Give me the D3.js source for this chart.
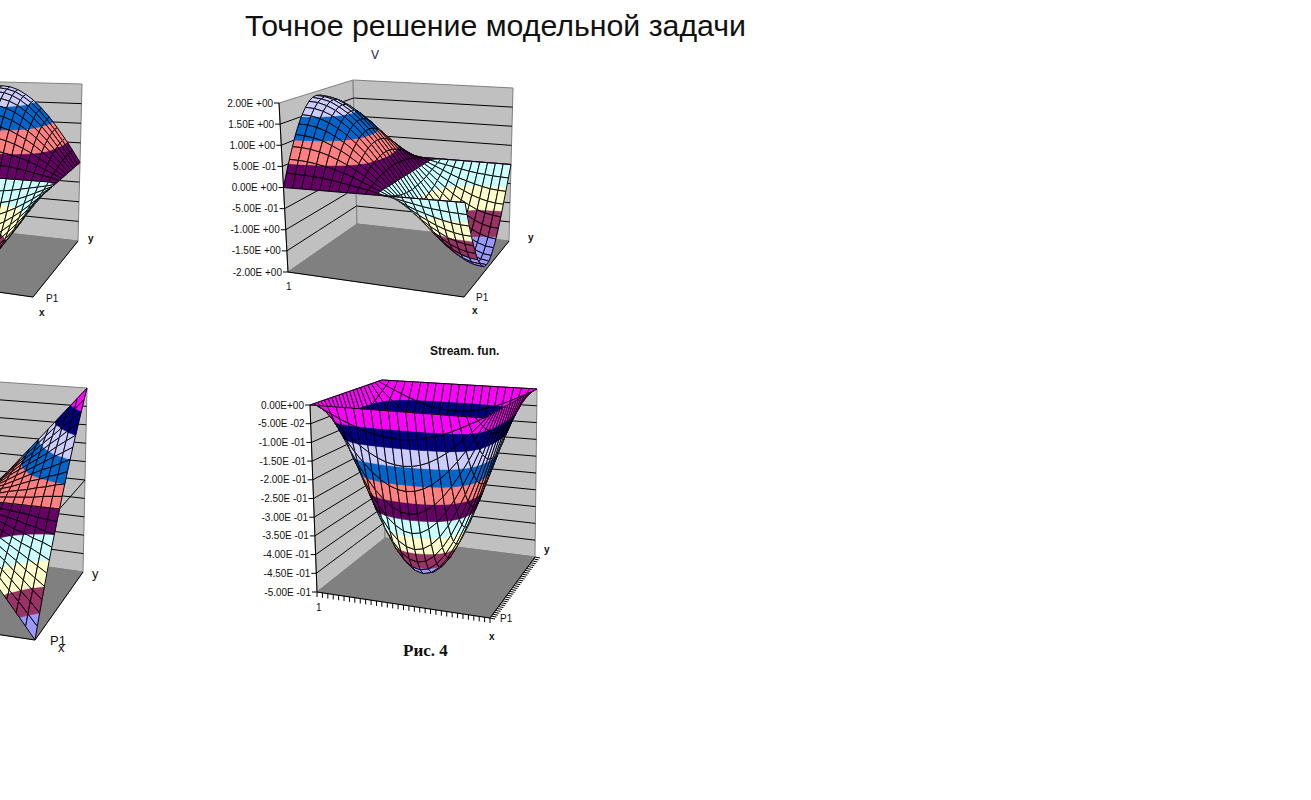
<!DOCTYPE html>
<html><head><meta charset="utf-8">
<script src="https://cdn.jsdelivr.net/npm/d3@7/dist/d3.min.js"></script>
<style>html,body{margin:0;padding:0;background:#fff;overflow:hidden}svg{display:block}text{font-family:"Liberation Sans",Arial,sans-serif;fill:#111}</style>
</head><body><div id="chart"></div>
<script>
const bandColors = ["#9999FF","#993366","#FFFFCC","#CCFFFF","#660066","#FF8080","#0066CC","#CCCCFF","#000080","#FF00FF"];
const vLevels = [-2,-1.5,-1,-0.5,0,0.5,1,1.5,2];
const vTickLabels = ["-2.00E +00","-1.50E +00","-1.00E +00","-5.00E -01","0.00E +00","5.00E -01","1.00E +00","1.50E +00","2.00E +00"];
const streamLevels = [-0.5,-0.45,-0.4,-0.35,-0.3,-0.25,-0.2,-0.15,-0.1,-0.05,0];
const streamTickLabels = ["-5.00E -01","-4.50E -01","-4.00E -01","-3.50E -01","-3.00E -01","-2.50E -01","-2.00E -01","-1.50E -01","-1.00E -01","-5.00E -02","0.00E+00"];
const pressureLevels = [-1,-0.8,-0.6,-0.4,-0.2,0,0.2,0.4,0.6,0.8,1];

const vGrid = [
[0,.30,.59,.86,1.12,1.34,1.54,1.69,1.81,1.88,1.90,1.88,1.81,1.69,1.54,1.34,1.12,.86,.59,.30,0],
[0,.29,.58,.85,1.10,1.33,1.52,1.67,1.79,1.85,1.88,1.85,1.79,1.67,1.52,1.33,1.10,.85,.58,.29,0],
[0,.28,.56,.82,1.06,1.28,1.46,1.61,1.72,1.79,1.81,1.79,1.72,1.61,1.46,1.28,1.06,.82,.56,.28,0],
[0,.26,.52,.77,1.00,1.20,1.37,1.51,1.61,1.67,1.69,1.67,1.61,1.51,1.37,1.20,1.00,.77,.52,.26,0],
[0,.24,.47,.70,.90,1.09,1.24,1.37,1.46,1.52,1.54,1.52,1.46,1.37,1.24,1.09,.90,.70,.47,.24,0],
[0,.21,.41,.61,.79,.95,1.09,1.20,1.28,1.33,1.34,1.33,1.28,1.20,1.09,.95,.79,.61,.41,.21,0],
[0,.17,.35,.51,.66,.79,.90,1.00,1.06,1.10,1.12,1.10,1.06,1.00,.90,.79,.66,.51,.35,.17,0],
[0,.13,.27,.39,.51,.61,.70,.77,.82,.85,.86,.85,.82,.77,.70,.61,.51,.39,.27,.13,0],
[0,.09,.18,.27,.35,.42,.47,.52,.56,.58,.59,.58,.56,.52,.47,.42,.35,.27,.18,.09,0],
[0,.05,.09,.13,.17,.21,.24,.26,.28,.29,.30,.29,.28,.26,.24,.21,.17,.13,.09,.05,0],
[0,0,0,0,0,0,0,0,0,0,0,0,0,0,0,0,0,0,0,0,0],
[0,-.05,-.09,-.13,-.17,-.21,-.24,-.26,-.28,-.29,-.30,-.29,-.28,-.26,-.24,-.21,-.17,-.13,-.09,-.05,0],
[0,-.09,-.18,-.27,-.35,-.42,-.47,-.52,-.56,-.58,-.59,-.58,-.56,-.52,-.47,-.42,-.35,-.27,-.18,-.09,0],
[0,-.13,-.27,-.39,-.51,-.61,-.70,-.77,-.82,-.85,-.86,-.85,-.82,-.77,-.70,-.61,-.51,-.39,-.27,-.13,0],
[0,-.17,-.35,-.51,-.66,-.79,-.90,-1.00,-1.06,-1.10,-1.12,-1.10,-1.06,-1.00,-.90,-.79,-.66,-.51,-.35,-.17,0],
[0,-.21,-.41,-.61,-.79,-.95,-1.09,-1.20,-1.28,-1.33,-1.34,-1.33,-1.28,-1.20,-1.09,-.95,-.79,-.61,-.41,-.21,0],
[0,-.24,-.47,-.70,-.90,-1.09,-1.24,-1.37,-1.46,-1.52,-1.54,-1.52,-1.46,-1.37,-1.24,-1.09,-.90,-.70,-.47,-.24,0],
[0,-.26,-.52,-.77,-1.00,-1.20,-1.37,-1.51,-1.61,-1.67,-1.69,-1.67,-1.61,-1.51,-1.37,-1.20,-1.00,-.77,-.52,-.26,0],
[0,-.28,-.56,-.82,-1.06,-1.28,-1.46,-1.61,-1.72,-1.79,-1.81,-1.79,-1.72,-1.61,-1.46,-1.28,-1.06,-.82,-.56,-.28,0],
[0,-.29,-.58,-.85,-1.10,-1.33,-1.52,-1.67,-1.79,-1.85,-1.88,-1.85,-1.79,-1.67,-1.52,-1.33,-1.10,-.85,-.58,-.29,0],
[0,-.30,-.59,-.86,-1.12,-1.34,-1.54,-1.69,-1.81,-1.88,-1.90,-1.88,-1.81,-1.69,-1.54,-1.34,-1.12,-.86,-.59,-.30,0]
];

const uGrid = [
[0,0,0,0,0,0,0,0,0,0,0,0,0,0,0,0,0,0,0,0,0],
[-.30,-.29,-.28,-.26,-.24,-.21,-.17,-.13,-.09,-.05,0,.05,.09,.13,.17,.21,.24,.26,.28,.29,.30],
[-.59,-.58,-.56,-.52,-.47,-.41,-.35,-.27,-.18,-.09,0,.09,.18,.27,.35,.41,.47,.52,.56,.58,.59],
[-.86,-.85,-.82,-.77,-.70,-.61,-.51,-.39,-.27,-.13,0,.13,.27,.39,.51,.61,.70,.77,.82,.85,.86],
[-1.12,-1.10,-1.06,-1.00,-.90,-.79,-.66,-.51,-.35,-.17,0,.17,.35,.51,.66,.79,.90,1.00,1.06,1.10,1.12],
[-1.34,-1.33,-1.28,-1.20,-1.09,-.95,-.79,-.61,-.42,-.21,0,.21,.42,.61,.79,.95,1.09,1.20,1.28,1.33,1.34],
[-1.54,-1.52,-1.46,-1.37,-1.24,-1.09,-.90,-.70,-.47,-.24,0,.24,.47,.70,.90,1.09,1.24,1.37,1.46,1.52,1.54],
[-1.69,-1.67,-1.61,-1.51,-1.37,-1.20,-1.00,-.77,-.52,-.26,0,.26,.52,.77,1.00,1.20,1.37,1.51,1.61,1.67,1.69],
[-1.81,-1.79,-1.72,-1.61,-1.46,-1.28,-1.06,-.82,-.56,-.28,0,.28,.56,.82,1.06,1.28,1.46,1.61,1.72,1.79,1.81],
[-1.88,-1.85,-1.79,-1.67,-1.52,-1.33,-1.10,-.85,-.58,-.29,0,.29,.58,.85,1.10,1.33,1.52,1.67,1.79,1.85,1.88],
[-1.90,-1.88,-1.81,-1.69,-1.54,-1.34,-1.12,-.86,-.59,-.30,0,.30,.59,.86,1.12,1.34,1.54,1.69,1.81,1.88,1.90],
[-1.88,-1.85,-1.79,-1.67,-1.52,-1.33,-1.10,-.85,-.58,-.29,0,.29,.58,.85,1.10,1.33,1.52,1.67,1.79,1.85,1.88],
[-1.81,-1.79,-1.72,-1.61,-1.46,-1.28,-1.06,-.82,-.56,-.28,0,.28,.56,.82,1.06,1.28,1.46,1.61,1.72,1.79,1.81],
[-1.69,-1.67,-1.61,-1.51,-1.37,-1.20,-1.00,-.77,-.52,-.26,0,.26,.52,.77,1.00,1.20,1.37,1.51,1.61,1.67,1.69],
[-1.54,-1.52,-1.46,-1.37,-1.24,-1.09,-.90,-.70,-.47,-.24,0,.24,.47,.70,.90,1.09,1.24,1.37,1.46,1.52,1.54],
[-1.34,-1.33,-1.28,-1.20,-1.09,-.95,-.79,-.61,-.42,-.21,0,.21,.42,.61,.79,.95,1.09,1.20,1.28,1.33,1.34],
[-1.12,-1.10,-1.06,-1.00,-.90,-.79,-.66,-.51,-.35,-.17,0,.17,.35,.51,.66,.79,.90,1.00,1.06,1.10,1.12],
[-.86,-.85,-.82,-.77,-.70,-.61,-.51,-.39,-.27,-.13,0,.13,.27,.39,.51,.61,.70,.77,.82,.85,.86],
[-.59,-.58,-.56,-.52,-.47,-.41,-.35,-.27,-.18,-.09,0,.09,.18,.27,.35,.41,.47,.52,.56,.58,.59],
[-.30,-.29,-.28,-.26,-.24,-.21,-.17,-.13,-.09,-.05,0,.05,.09,.13,.17,.21,.24,.26,.28,.29,.30],
[0,0,0,0,0,0,0,0,0,0,0,0,0,0,0,0,0,0,0,0,0]
];

const streamGrid = [
[0,0,0,0,0,0,0,0,0,0,0,0,0,0,0,0,0,0,0,0,0],
[0,-.012,-.023,-.034,-.044,-.053,-.061,-.067,-.071,-.074,-.075,-.074,-.071,-.067,-.061,-.053,-.044,-.034,-.023,-.012,0],
[0,-.023,-.046,-.067,-.087,-.105,-.120,-.132,-.141,-.146,-.148,-.146,-.141,-.132,-.120,-.105,-.087,-.067,-.046,-.023,0],
[0,-.034,-.067,-.099,-.128,-.154,-.176,-.194,-.207,-.215,-.218,-.215,-.207,-.194,-.176,-.154,-.128,-.099,-.067,-.034,0],
[0,-.044,-.087,-.128,-.166,-.199,-.228,-.251,-.268,-.279,-.282,-.279,-.268,-.251,-.228,-.199,-.166,-.128,-.087,-.044,0],
[0,-.053,-.105,-.154,-.199,-.240,-.274,-.302,-.322,-.335,-.339,-.335,-.322,-.302,-.274,-.240,-.199,-.154,-.105,-.053,0],
[0,-.061,-.120,-.176,-.228,-.274,-.314,-.346,-.369,-.383,-.388,-.383,-.369,-.346,-.314,-.274,-.228,-.176,-.120,-.061,0],
[0,-.067,-.132,-.194,-.251,-.302,-.346,-.381,-.407,-.423,-.428,-.423,-.407,-.381,-.346,-.302,-.251,-.194,-.132,-.067,0],
[0,-.071,-.141,-.207,-.268,-.322,-.369,-.407,-.434,-.451,-.456,-.451,-.434,-.407,-.369,-.322,-.268,-.207,-.141,-.071,0],
[0,-.074,-.146,-.215,-.279,-.335,-.383,-.423,-.451,-.468,-.474,-.468,-.451,-.423,-.383,-.335,-.279,-.215,-.146,-.074,0],
[0,-.075,-.148,-.218,-.282,-.339,-.388,-.428,-.456,-.474,-.480,-.474,-.456,-.428,-.388,-.339,-.282,-.218,-.148,-.075,0],
[0,-.074,-.146,-.215,-.279,-.335,-.383,-.423,-.451,-.468,-.474,-.468,-.451,-.423,-.383,-.335,-.279,-.215,-.146,-.074,0],
[0,-.071,-.141,-.207,-.268,-.322,-.369,-.407,-.434,-.451,-.456,-.451,-.434,-.407,-.369,-.322,-.268,-.207,-.141,-.071,0],
[0,-.067,-.132,-.194,-.251,-.302,-.346,-.381,-.407,-.423,-.428,-.423,-.407,-.381,-.346,-.302,-.251,-.194,-.132,-.067,0],
[0,-.061,-.120,-.176,-.228,-.274,-.314,-.346,-.369,-.383,-.388,-.383,-.369,-.346,-.314,-.274,-.228,-.176,-.120,-.061,0],
[0,-.053,-.105,-.154,-.199,-.240,-.274,-.302,-.322,-.335,-.339,-.335,-.322,-.302,-.274,-.240,-.199,-.154,-.105,-.053,0],
[0,-.044,-.087,-.128,-.166,-.199,-.228,-.251,-.268,-.279,-.282,-.279,-.268,-.251,-.228,-.199,-.166,-.128,-.087,-.044,0],
[0,-.034,-.067,-.099,-.128,-.154,-.176,-.194,-.207,-.215,-.218,-.215,-.207,-.194,-.176,-.154,-.128,-.099,-.067,-.034,0],
[0,-.023,-.046,-.067,-.087,-.105,-.120,-.132,-.141,-.146,-.148,-.146,-.141,-.132,-.120,-.105,-.087,-.067,-.046,-.023,0],
[0,-.012,-.023,-.034,-.044,-.053,-.061,-.067,-.071,-.074,-.075,-.074,-.071,-.067,-.061,-.053,-.044,-.034,-.023,-.012,0],
[0,0,0,0,0,0,0,0,0,0,0,0,0,0,0,0,0,0,0,0,0]
];

const pressureGrid = [
[1,.9,.8,.7,.6,.5,.4,.3,.2,.1,0,-.1,-.2,-.3,-.4,-.5,-.6,-.7,-.8,-.9,-1],
[.96,.86,.77,.67,.58,.48,.38,.29,.19,.1,0,-.1,-.19,-.29,-.38,-.48,-.58,-.67,-.77,-.86,-.96],
[.92,.83,.74,.64,.55,.46,.37,.28,.18,.09,0,-.09,-.18,-.28,-.37,-.46,-.55,-.64,-.74,-.83,-.92],
[.88,.79,.7,.62,.53,.44,.35,.26,.18,.09,0,-.09,-.18,-.26,-.35,-.44,-.53,-.62,-.7,-.79,-.88],
[.84,.76,.67,.59,.5,.42,.34,.25,.17,.08,0,-.08,-.17,-.25,-.34,-.42,-.5,-.59,-.67,-.76,-.84],
[.8,.72,.64,.56,.48,.4,.32,.24,.16,.08,0,-.08,-.16,-.24,-.32,-.4,-.48,-.56,-.64,-.72,-.8],
[.68,.61,.54,.48,.41,.34,.27,.2,.14,.07,0,-.07,-.14,-.2,-.27,-.34,-.41,-.48,-.54,-.61,-.68],
[.56,.5,.45,.39,.34,.28,.22,.17,.11,.06,0,-.06,-.11,-.17,-.22,-.28,-.34,-.39,-.45,-.5,-.56],
[.44,.4,.35,.31,.26,.22,.18,.13,.09,.04,0,-.04,-.09,-.13,-.18,-.22,-.26,-.31,-.35,-.4,-.44],
[.32,.29,.26,.22,.19,.16,.13,.1,.06,.03,0,-.03,-.06,-.1,-.13,-.16,-.19,-.22,-.26,-.29,-.32],
[.2,.18,.16,.14,.12,.1,.08,.06,.04,.02,0,-.02,-.04,-.06,-.08,-.1,-.12,-.14,-.16,-.18,-.2],
[.08,.07,.06,.06,.05,.04,.03,.02,.02,.01,0,-.01,-.02,-.02,-.03,-.04,-.05,-.06,-.06,-.07,-.08],
[-.04,-.04,-.03,-.03,-.02,-.02,-.02,-.01,-.01,0,0,0,.01,.01,.02,.02,.02,.03,.03,.04,.04],
[-.16,-.14,-.13,-.11,-.1,-.08,-.06,-.05,-.03,-.02,0,.02,.03,.05,.06,.08,.1,.11,.13,.14,.16],
[-.28,-.25,-.22,-.2,-.17,-.14,-.11,-.08,-.06,-.03,0,.03,.06,.08,.11,.14,.17,.2,.22,.25,.28],
[-.4,-.36,-.32,-.28,-.24,-.2,-.16,-.12,-.08,-.04,0,.04,.08,.12,.16,.2,.24,.28,.32,.36,.4],
[-.52,-.47,-.42,-.36,-.31,-.26,-.21,-.16,-.1,-.05,0,.05,.1,.16,.21,.26,.31,.36,.42,.47,.52],
[-.64,-.58,-.51,-.45,-.38,-.32,-.26,-.19,-.13,-.06,0,.06,.13,.19,.26,.32,.38,.45,.51,.58,.64],
[-.76,-.68,-.61,-.53,-.46,-.38,-.3,-.23,-.15,-.08,0,.08,.15,.23,.3,.38,.46,.53,.61,.68,.76],
[-.88,-.79,-.7,-.62,-.53,-.44,-.35,-.26,-.18,-.09,0,.09,.18,.26,.35,.44,.53,.62,.7,.79,.88],
[-1,-.9,-.8,-.7,-.6,-.5,-.4,-.3,-.2,-.1,0,.1,.2,.3,.4,.5,.6,.7,.8,.9,1]
];

const svg = d3.select("#chart").append("svg").attr("width",1311).attr("height",800);
const lerp = (a,b,t)=>a+(b-a)*t;

function drawSurface(cfg){
  const g = svg.append("g");
  const n = cfg.grid.length-1;
  const su = d3.scaleLinear().domain([0,n]).range([0,1]);
  const sz = d3.scaleLinear().domain(d3.extent(cfg.levels)).range([0,1]);
  const F = cfg.floor, T = cfg.top; // corners: left, front, back, right
  const lean = cfg.lean || [0,0];
  const bil = (c,u,v,k)=>lerp(lerp(c.left[k],c.front[k],u),lerp(c.back[k],c.right[k],u),v);
  const proj = (u,v,val)=>{const t=sz(val);return [lerp(bil(F,u,v,0),bil(T,u,v,0),t),lerp(bil(F,u,v,1),bil(T,u,v,1),t)];};
  const projSurface = (u,v,val)=>{const p=proj(u,v,val),t=sz(val);return [p[0]+lean[0]*(1-t),p[1]+lean[1]*(1-t)];};
  const line = d3.line();
  const poly = pts=>line(pts)+"Z";

  // walls and floor
  const walls = [
    {p:[proj(0,0,sz.domain()[0]),proj(0,0,sz.domain()[1]),proj(0,1,sz.domain()[1]),proj(0,1,sz.domain()[0])],fill:"#C0C0C0"},
    {p:[proj(0,1,sz.domain()[0]),proj(0,1,sz.domain()[1]),proj(1,1,sz.domain()[1]),proj(1,1,sz.domain()[0])],fill:"#C0C0C0"},
    {p:[proj(0,0,sz.domain()[0]),proj(1,0,sz.domain()[0]),proj(1,1,sz.domain()[0]),proj(0,1,sz.domain()[0])],fill:"#808080"}
  ];
  g.selectAll("path.wall").data(walls).join("path").attr("class","wall")
    .attr("d",d=>poly(d.p)).attr("fill",d=>d.fill).attr("stroke","#808080").attr("stroke-width",1);

  // gridlines on the two walls
  const gl = g.append("g").attr("stroke","#000").attr("stroke-width",1).attr("fill","none");
  cfg.levels.slice(1).forEach(l=>{
    if(l===sz.domain()[1]) return;
    gl.append("path").attr("d",line([proj(0,0,l),proj(0,1,l),proj(1,1,l)]));
  });
  gl.append("path").attr("d",line([proj(0,0,sz.domain()[0]),proj(1,0,sz.domain()[0]),proj(1,1,sz.domain()[0])]));
  gl.append("path").attr("d",line([proj(0,0,sz.domain()[0]),proj(0,0,sz.domain()[1])]));
  if(cfg.zeroLine!==undefined) gl.append("path").attr("d",line([proj(1,1,cfg.zeroLine),proj(1,0,cfg.zeroLine)]));

  // value axis ticks and labels
  cfg.levels.forEach((l,k)=>{
    const p = proj(0,0,l);
    g.append("line").attr("x1",p[0]-5).attr("x2",p[0]).attr("y1",p[1]).attr("y2",p[1]).attr("stroke","#000");
    if(cfg.labels) g.append("text").attr("x",p[0]-6).attr("y",p[1]+3.5).attr("text-anchor","end")
      .attr("font-size",10).text(cfg.labels[k]);
  });

  // category ticks along the floor edges
  if(cfg.floorTicks){
    const tk = d3.scaleLinear().domain([0,cfg.floorTicks]).range([0,1]);
    const ts = g.append("g").attr("stroke","#000").attr("fill","none");
    d3.range(cfg.floorTicks+1).forEach(k=>{
      const a = proj(tk(k),0,sz.domain()[0]);
      ts.append("line").attr("x1",a[0]).attr("y1",a[1]).attr("x2",a[0]).attr("y2",a[1]+5);
      const b = proj(1,tk(k),sz.domain()[0]);
      ts.append("line").attr("x1",b[0]).attr("y1",b[1]).attr("x2",b[0]+5).attr("y2",b[1]+1);
    });
  }

  // surface, cell by cell from the back corner to the front corner
  const bands = d3.pairs(cfg.levels).map((b,i)=>({lo:b[0],hi:b[1],color:bandColors[i]}));
  const clip = (pts,keep,level)=>{
    const out=[];
    pts.forEach((a,i)=>{
      const b=pts[(i+1)%pts.length], ka=keep(a[2]), kb=keep(b[2]);
      if(ka) out.push(a);
      if(ka!==kb){const t=(level-a[2])/(b[2]-a[2]);out.push([lerp(a[0],b[0],t),lerp(a[1],b[1],t),level]);}
    });
    return out;
  };
  const cells=[];
  for(let i=0;i<n;i++)for(let j=0;j<n;j++)cells.push({i,j});
  cells.sort((a,b)=>(a.i-a.j)-(b.i-b.j));
  const items=[];
  cells.forEach(({i,j})=>{
    const corner=(a,b)=>{const val=cfg.grid[a][b];const p=projSurface(su(a),su(b),val);return [p[0],p[1],val];};
    const q=[corner(i,j),corner(i+1,j),corner(i+1,j+1),corner(i,j+1)];
    bands.forEach(b=>{
      let pts=clip(q,v=>v>=b.lo,b.lo);
      if(pts.length) pts=clip(pts,v=>v<=b.hi,b.hi);
      if(pts.length>2) items.push({d:poly(pts.map(p=>[p[0],p[1]])),fill:b.color,stroke:b.color,w:.6});
    });
    items.push({d:poly(q.map(p=>[p[0],p[1]])),fill:"none",stroke:"#000",w:1});
  });
  g.append("g").selectAll("path").data(items).join("path")
    .attr("d",d=>d.d).attr("fill",d=>d.fill).attr("stroke",d=>d.stroke).attr("stroke-width",d=>d.w)
    .attr("stroke-linejoin","round");
}

drawSurface({grid:uGrid,levels:vLevels,
  floor:{left:[-143,272],front:[33,297],back:[-74,224],right:[78,241]},
  top:{left:[-152,103],front:[35,108],back:[-78,80],right:[82,84]}});
drawSurface({grid:vGrid,levels:vLevels,labels:vTickLabels,
  floor:{left:[288,272],front:[464,297],back:[357,224],right:[509,241]},
  top:{left:[279,103],front:[466,108],back:[353,80],right:[513,88]}});
drawSurface({grid:pressureGrid,levels:pressureLevels,zeroLine:0,
  floor:{left:[-150,612],front:[35,640],back:[-100,546],right:[83,572]},
  top:{left:[-158,420],front:[33,436],back:[-103,375],right:[87,388]}});
drawSurface({grid:streamGrid,levels:streamLevels,labels:streamTickLabels,floorTicks:32,lean:[-6,4],
  floor:{left:[317,592],front:[490,618],back:[385,538],right:[535,557]},
  top:{left:[310,405],front:[484,418],back:[382,380],right:[537,389]}});

const texts = [
  {t:"Точное решение модельной задачи",x:245,y:36,s:30.3},
  {t:"V",x:371,y:59,s:12,c:"#1a1a50"},
  {t:"Stream. fun.",x:430,y:355,s:12,w:"bold"},
  {t:"Рис. 4",x:403,y:656,s:17,f:"Liberation Serif",w:"bold"},
  {t:"y",x:88,y:242,s:10,w:"bold"},{t:"P1",x:46,y:302,s:10},{t:"x",x:39,y:316,s:10,w:"bold"},
  {t:"y",x:528,y:241,s:10,w:"bold"},{t:"P1",x:476,y:301,s:10},{t:"x",x:472,y:314,s:10,w:"bold"},{t:"1",x:286,y:290,s:10},
  {t:"y",x:92,y:578,s:13},{t:"P1",x:50,y:645,s:13},{t:"x",x:58,y:652,s:13},
  {t:"y",x:544,y:553,s:10,w:"bold"},{t:"P1",x:500,y:622,s:10},{t:"x",x:489,y:640,s:10,w:"bold"},{t:"1",x:316,y:611,s:10}
];
svg.append("g").selectAll("text").data(texts).join("text")
  .attr("x",d=>d.x).attr("y",d=>d.y).attr("font-size",d=>d.s)
  .attr("font-weight",d=>d.w||"normal").style("font-family",d=>d.f?`"${d.f}",serif`:null)
  .style("fill",d=>d.c||null).text(d=>d.t);
</script></body></html>
